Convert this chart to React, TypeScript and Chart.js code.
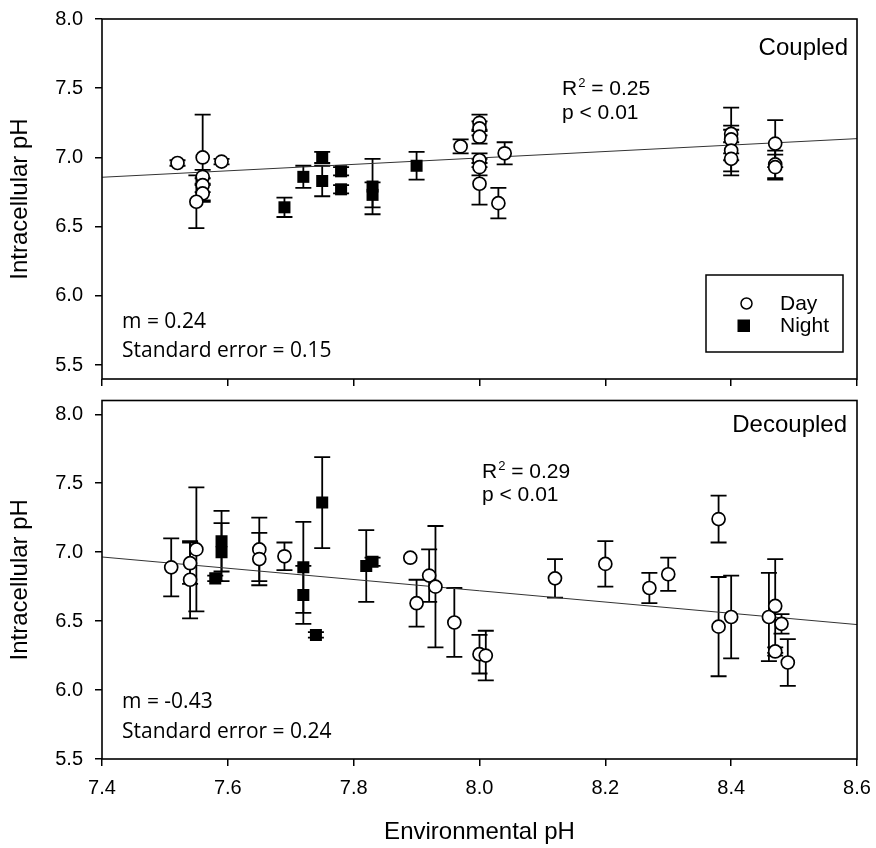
import React, { useEffect, useRef } from "react";
import { Chart, registerables } from "chart.js";

Chart.register(...registerables);

const FONT = "'Liberation Sans', Arial, sans-serif";
const NOTE_FONT = "'Open Sans', 'Noto Sans', sans-serif";

const xTicks = [7.4, 7.6, 7.8, 8.0, 8.2, 8.4, 8.6];
const yTicks = [5.5, 6.0, 6.5, 7.0, 7.5, 8.0];
const fitX = [7.4, 8.6];

// ---- Coupled (top) ----
const coupledDayX = [7.52, 7.56, 7.59, 7.56, 7.56, 7.56, 7.55, 7.97, 8.0, 8.0, 8.0, 8.0, 8.0, 8.0, 8.04, 8.03, 8.4, 8.4, 8.4, 8.4, 8.47, 8.47, 8.47];
const coupledDayY = [6.96, 7.0, 6.97, 6.86, 6.8, 6.74, 6.68, 7.08, 7.25, 7.21, 7.15, 6.98, 6.93, 6.81, 7.03, 6.67, 7.17, 7.13, 7.05, 6.99, 7.1, 6.95, 6.93];
const coupledDayErr = [0.02, 0.31, 0.02, 0.05, 0.05, 0.06, 0.19, 0.05, 0.06, 0.05, 0.05, 0.05, 0.06, 0.15, 0.08, 0.11, 0.19, 0.1, 0.15, 0.12, 0.17, 0.1, 0.09];
const coupledNightX = [7.69, 7.72, 7.75, 7.75, 7.78, 7.78, 7.83, 7.83, 7.9];
const coupledNightY = [6.64, 6.86, 7.0, 6.83, 6.9, 6.77, 6.79, 6.73, 6.94];
const coupledNightErr = [0.07, 0.08, 0.04, 0.11, 0.03, 0.03, 0.2, 0.09, 0.1];
const coupledFitY = [6.857, 7.136];

// ---- Decoupled (bottom) ----
const decoupledDayX = [7.51, 7.54, 7.54, 7.55, 7.65, 7.65, 7.69, 7.89, 7.92, 7.9, 7.93, 7.96, 8.0, 8.01, 8.12, 8.2, 8.27, 8.3, 8.38, 8.38, 8.4, 8.46, 8.47, 8.48, 8.47, 8.49];
const decoupledDayY = [6.89, 6.92, 6.8, 7.02, 7.02, 6.95, 6.97, 6.96, 6.83, 6.63, 6.75, 6.49, 6.26, 6.25, 6.81, 6.915, 6.74, 6.84, 7.24, 6.46, 6.53, 6.53, 6.61, 6.48, 6.28, 6.2];
const decoupledDayErr = [0.21, 0.15, 0.28, 0.45, 0.23, 0.19, 0.1, 0.0, 0.19, 0.17, 0.44, 0.25, 0.14, 0.18, 0.14, 0.165, 0.11, 0.12, 0.17, 0.36, 0.3, 0.32, 0.34, 0.07, 0.03, 0.17];
const decoupledNightX = [7.58, 7.59, 7.59, 7.72, 7.72, 7.74, 7.75, 7.82, 7.83];
const decoupledNightY = [6.81, 7.08, 7.0, 6.89, 6.69, 6.4, 7.36, 6.9, 6.93];
const decoupledNightErr = [0.02, 0.22, 0.21, 0.33, 0.21, 0.02, 0.33, 0.26, 0.03];
const decoupledFitY = [6.965, 6.475];

const errorBarPlugin = {
  id: "errorBars",
  beforeDatasetsDraw(chart: any) {
    const ctx = chart.ctx;
    const xs = chart.scales.x;
    const ys = chart.scales.y;
    ctx.save();
    ctx.strokeStyle = "#000";
    ctx.lineWidth = 1.8;
    chart.data.datasets.forEach((ds: any) => {
      if (!ds.errors) return;
      ds.data.forEach((p: any, i: number) => {
        const e = ds.errors[i];
        if (!e) return;
        const px = xs.getPixelForValue(p.x);
        const t = ys.getPixelForValue(p.y + e);
        const b = ys.getPixelForValue(p.y - e);
        ctx.beginPath();
        ctx.moveTo(px, t);
        ctx.lineTo(px, b);
        ctx.moveTo(px - 8, t);
        ctx.lineTo(px + 8, t);
        ctx.moveTo(px - 8, b);
        ctx.lineTo(px + 8, b);
        ctx.stroke();
      });
    });
    ctx.restore();
  },
};

const framePlugin = {
  id: "frame",
  afterDatasetsDraw(chart: any) {
    const { ctx, chartArea } = chart;
    ctx.save();
    ctx.strokeStyle = "#000";
    ctx.lineWidth = 1.6;
    ctx.strokeRect(chartArea.left, chartArea.top, chartArea.right - chartArea.left, chartArea.bottom - chartArea.top);
    ctx.restore();
  },
};

type TextItem = { text: string; x: number; y: number; font: string; align?: CanvasTextAlign; sup?: string; after?: string };

function makeTextPlugin(items: TextItem[], legend: boolean) {
  return {
    id: "texts",
    afterDraw(chart: any) {
      const ctx = chart.ctx as CanvasRenderingContext2D;
      ctx.save();
      ctx.fillStyle = "#000";
      ctx.textBaseline = "alphabetic";
      items.forEach((it) => {
        ctx.font = it.font;
        ctx.textAlign = it.align || "left";
        if (it.sup) {
          ctx.textAlign = "left";
          ctx.fillText(it.text, it.x, it.y);
          let x = it.x + ctx.measureText(it.text).width;
          ctx.font = "13px " + FONT;
          ctx.fillText(it.sup, x + 1, it.y - 8);
          x += ctx.measureText(it.sup).width + 1;
          ctx.font = it.font;
          ctx.fillText(it.after || "", x, it.y);
        } else {
          ctx.fillText(it.text, it.x, it.y);
        }
      });
      if (legend) {
        ctx.strokeStyle = "#000";
        ctx.lineWidth = 1.5;
        ctx.strokeRect(706, 275, 137, 77);
        ctx.beginPath();
        ctx.arc(746.5, 303.5, 5.5, 0, Math.PI * 2);
        ctx.fillStyle = "#fff";
        ctx.fill();
        ctx.stroke();
        ctx.fillStyle = "#000";
        ctx.fillRect(737.5, 319.5, 12.5, 12.5);
        ctx.font = "21px " + FONT;
        ctx.textAlign = "left";
        ctx.fillText("Day", 780, 310);
        ctx.fillText("Night", 780, 332);
      }
      ctx.restore();
    },
  };
}

function pts(xs: number[], ys: number[]) {
  return xs.map((x, i) => ({ x, y: ys[i] }));
}

function buildConfig(o: any): any {
  return {
    type: "scatter",
    data: {
      datasets: [
        {
          label: "Day",
          data: pts(o.dayX, o.dayY),
          errors: o.dayErr,
          pointStyle: "circle",
          pointRadius: 6.5,
          pointBackgroundColor: "#fff",
          pointBorderColor: "#000",
          pointBorderWidth: 1.7,
          showLine: false,
        },
        {
          label: "Night",
          data: pts(o.nightX, o.nightY),
          errors: o.nightErr,
          pointStyle: "rect",
          pointRadius: 8.5,
          pointBackgroundColor: "#000",
          pointBorderColor: "#000",
          pointBorderWidth: 0,
          showLine: false,
        },
        {
          label: "Fit",
          data: pts(fitX, o.fitY),
          showLine: true,
          pointRadius: 0,
          borderColor: "#333",
          borderWidth: 1,
        },
      ],
    },
    options: {
      responsive: false,
      animation: false,
      layout: { padding: { left: 0, right: 19, top: o.padTop, bottom: 0 } },
      plugins: { legend: { display: false }, tooltip: { enabled: false } },
      scales: {
        x: {
          type: "linear",
          min: 7.4,
          max: 8.6,
          afterBuildTicks: (s: any) => {
            s.ticks = xTicks.map((v) => ({ value: v }));
          },
          afterFit: (s: any) => {
            s.height = o.xHeight;
            s.paddingLeft = 0;
            s.paddingRight = 0;
            s.paddingTop = 0;
            s.paddingBottom = 0;
          },
          border: { display: false },
          grid: { drawOnChartArea: false, drawTicks: true, tickLength: 7, color: "#000", lineWidth: 1.5 },
          ticks: {
            display: o.showXLabels,
            padding: 10,
            color: "#000",
            font: { family: FONT, size: 20 },
            callback: (v: any) => Number(v).toFixed(1),
          },
          title: {
            display: o.showXLabels,
            text: "Environmental pH",
            color: "#000",
            font: { family: FONT, size: 24 },
            padding: { top: 0, bottom: 1 },
          },
        },
        y: {
          type: "linear",
          min: o.yMin,
          max: o.yMax,
          afterBuildTicks: (s: any) => {
            s.ticks = yTicks.map((v) => ({ value: v }));
          },
          afterFit: (s: any) => {
            s.width = 102;
            s.paddingLeft = 0;
            s.paddingRight = 0;
            s.paddingTop = 0;
            s.paddingBottom = 0;
          },
          border: { display: false },
          grid: { drawOnChartArea: false, drawTicks: true, tickLength: 7, color: "#000", lineWidth: 1.5 },
          ticks: {
            padding: 12,
            color: "#000",
            font: { family: FONT, size: 20 },
            callback: (v: any) => Number(v).toFixed(1),
          },
          title: {
            display: true,
            text: "Intracellular pH",
            color: "#000",
            font: { family: FONT, size: 24 },
            padding: { top: 6, bottom: 0 },
          },
        },
      },
    },
    plugins: [errorBarPlugin, framePlugin, makeTextPlugin(o.texts, o.legend)],
  };
}

const topTexts: TextItem[] = [
  { text: "Coupled", x: 848, y: 55, font: "24px " + FONT, align: "right" },
  { text: "R", sup: "2", after: " = 0.25", x: 562, y: 95, font: "21px " + FONT },
  { text: "p < 0.01", x: 562, y: 119, font: "21px " + FONT },
  { text: "m = 0.24", x: 122, y: 328, font: "21px " + NOTE_FONT },
  { text: "Standard error = 0.15", x: 122, y: 357, font: "21px " + NOTE_FONT },
];

const bottomTexts: TextItem[] = [
  { text: "Decoupled", x: 847, y: 40, font: "24px " + FONT, align: "right" },
  { text: "R", sup: "2", after: " = 0.29", x: 482, y: 86, font: "21px " + FONT },
  { text: "p < 0.01", x: 482, y: 109, font: "21px " + FONT },
  { text: "m = -0.43", x: 122, y: 316, font: "21px " + NOTE_FONT },
  { text: "Standard error = 0.24", x: 122, y: 346, font: "21px " + NOTE_FONT },
];

export default function App() {
  const topRef = useRef<HTMLCanvasElement>(null);
  const botRef = useRef<HTMLCanvasElement>(null);

  useEffect(() => {
    const c1 = new Chart(
      topRef.current as HTMLCanvasElement,
      buildConfig({
        dayX: coupledDayX,
        dayY: coupledDayY,
        dayErr: coupledDayErr,
        nightX: coupledNightX,
        nightY: coupledNightY,
        nightErr: coupledNightErr,
        fitY: coupledFitY,
        yMin: 5.4,
        yMax: 8.0,
        showXLabels: false,
        xHeight: 13,
        padTop: 19,
        texts: topTexts,
        legend: true,
      })
    );
    const c2 = new Chart(
      botRef.current as HTMLCanvasElement,
      buildConfig({
        dayX: decoupledDayX,
        dayY: decoupledDayY,
        dayErr: decoupledDayErr,
        nightX: decoupledNightX,
        nightY: decoupledNightY,
        nightErr: decoupledNightErr,
        fitY: decoupledFitY,
        yMin: 5.5,
        yMax: 8.1,
        showXLabels: true,
        xHeight: 89,
        padTop: 6,
        texts: bottomTexts,
        legend: false,
      })
    );
    return () => {
      c1.destroy();
      c2.destroy();
    };
  }, []);

  return (
    <div style={{ position: "absolute", left: 0, top: 0, width: 876, height: 848, background: "#fff" }}>
      <canvas ref={topRef} width={876} height={392} style={{ position: "absolute", left: 0, top: 0, display: "block" }} />
      <canvas ref={botRef} width={876} height={456} style={{ position: "absolute", left: 0, top: 392, display: "block" }} />
    </div>
  );
}
